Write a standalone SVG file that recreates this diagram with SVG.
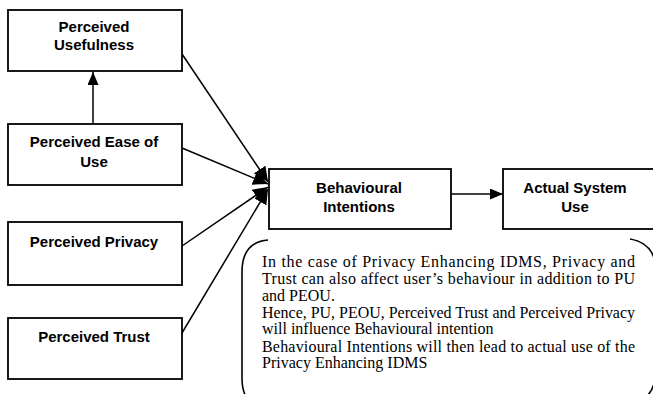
<svg xmlns="http://www.w3.org/2000/svg" width="653" height="394" viewBox="0 0 653 394">
<style>
.box{fill:#fff;stroke:#000;stroke-width:1.8}
.lbl{font-family:"Liberation Sans",Arial,sans-serif;font-weight:bold;font-size:15px;fill:#000;text-anchor:middle}
.conn{stroke:#000;stroke-width:1.5;fill:none}
.note{font-family:"Liberation Serif","Times New Roman",serif;font-size:16px;fill:#000}
.brk{stroke:#000;stroke-width:1.6;fill:none}
</style>
<defs>
<marker id="ah" markerUnits="userSpaceOnUse" markerWidth="14" markerHeight="11" refX="13" refY="5.5" orient="auto">
<path d="M0,0 L13,5.5 L0,11 Z" fill="#000"/>
</marker>
<marker id="ahc" markerUnits="userSpaceOnUse" markerWidth="16" markerHeight="14" refX="15" refY="7" orient="auto">
<path d="M0,0 L15,7 L0,14 Z" fill="#000"/>
</marker>
</defs>
<rect width="653" height="394" fill="#fff"/>
<g id="connectors">
<line class="conn" x1="93" y1="124" x2="93" y2="72" marker-end="url(#ah)"/>
<line class="conn" x1="451" y1="194" x2="503" y2="194" marker-end="url(#ah)"/>
<line class="conn" x1="182" y1="54" x2="268" y2="182" marker-end="url(#ahc)"/>
<line class="conn" x1="182" y1="148" x2="268" y2="184" marker-end="url(#ahc)"/>
<line class="conn" x1="182" y1="246" x2="268" y2="187" marker-end="url(#ahc)"/>
<line class="conn" x1="182" y1="333" x2="268" y2="189" marker-end="url(#ahc)"/>
</g>
<g id="pu">
<rect class="box" x="8" y="10" width="174" height="61"/>
<text class="lbl" x="94" y="32">Perceived</text>
<text class="lbl" x="94" y="50">Usefulness</text>
</g>
<g id="peou">
<rect class="box" x="8" y="124" width="174" height="61"/>
<text class="lbl" x="94" y="147">Perceived Ease of</text>
<text class="lbl" x="94" y="167">Use</text>
</g>
<g id="pp">
<rect class="box" x="8" y="222" width="174" height="63"/>
<text class="lbl" x="94" y="247">Perceived Privacy</text>
</g>
<g id="pt">
<rect class="box" x="8" y="318" width="174" height="61"/>
<text class="lbl" x="94" y="342">Perceived Trust</text>
</g>
<g id="bi">
<rect class="box" x="269" y="169" width="182" height="60"/>
<text class="lbl" x="359" y="193">Behavioural</text>
<text class="lbl" x="359" y="212">Intentions</text>
</g>
<g id="asu">
<rect class="box" x="503" y="169" width="160" height="60"/>
<text class="lbl" x="575" y="193">Actual System</text>
<text class="lbl" x="575" y="212">Use</text>
</g>
<g id="note">
<path class="brk" d="M268,240 Q242,242 242,272 L242,378 Q242,392 248,400"/>
<path class="brk" d="M630,239 Q655,243 656,270 L656,372 Q655,392 642,400"/>
<text class="note" x="262" y="267" textLength="373" lengthAdjust="spacing">In the case of Privacy Enhancing IDMS, Privacy and</text>
<text class="note" x="262" y="284" textLength="373" lengthAdjust="spacing">Trust can also affect user’s behaviour in addition to PU</text>
<text class="note" x="262" y="300.5">and PEOU.</text>
<text class="note" x="262" y="317.5" textLength="373" lengthAdjust="spacingAndGlyphs">Hence, PU, PEOU, Perceived Trust and Perceived Privacy</text>
<text class="note" x="262" y="334">will influence Behavioural intention</text>
<text class="note" x="262" y="351.5" textLength="373" lengthAdjust="spacing">Behavioural Intentions will then lead to actual use of the</text>
<text class="note" x="262" y="368">Privacy Enhancing IDMS</text>
</g>
</svg>
